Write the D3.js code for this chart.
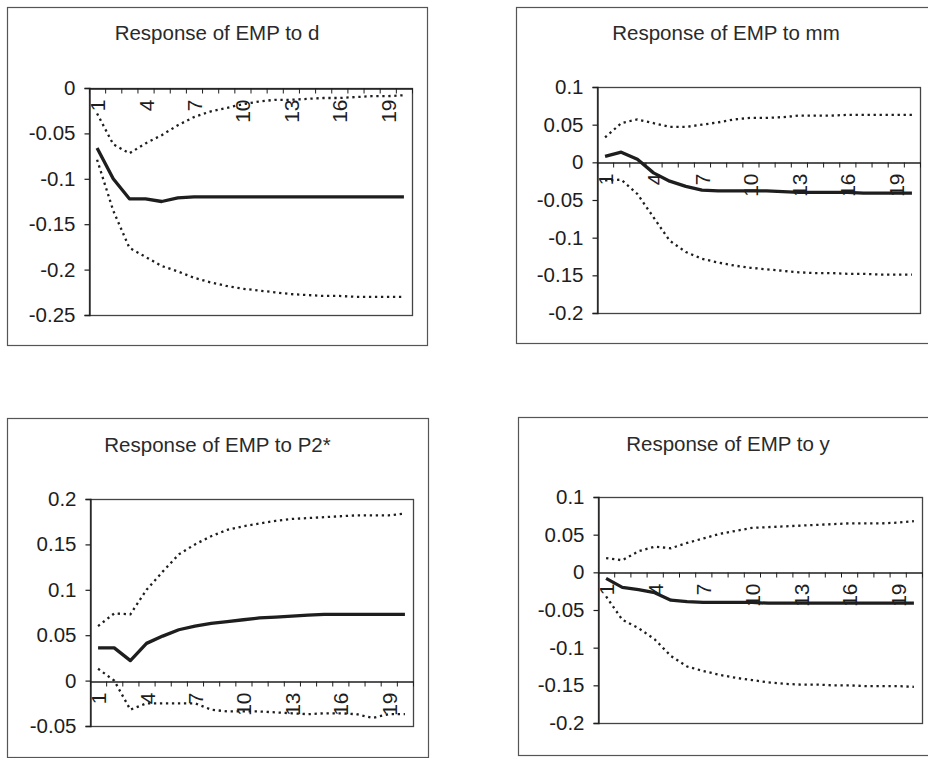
<!DOCTYPE html>
<html>
<head>
<meta charset="utf-8">
<script src="https://cdn.jsdelivr.net/npm/d3@7"></script>
<style>
body { margin: 0; background: #fff; }
svg { display: block; font-family: "Liberation Sans", Arial, sans-serif; }
</style>
</head>
<body>
<svg id="chart" width="928" height="758"></svg>
<script>
(function(){
'use strict';

var periods = [1, 2, 3, 4, 5, 6, 7, 8, 9, 10, 11, 12, 13, 14, 15, 16, 17, 18, 19, 20];
var periodLabels = [1, 4, 7, 10, 13, 16, 19];

// Response of EMP to d
var dImpulse = [-0.066, -0.100, -0.122, -0.122, -0.125, -0.121, -0.120, -0.120, -0.120, -0.120,
                -0.120, -0.120, -0.120, -0.120, -0.120, -0.120, -0.120, -0.120, -0.120, -0.120];
var dUpper = [-0.028, -0.062, -0.072, -0.061, -0.052, -0.041, -0.032, -0.026, -0.022, -0.018,
              -0.015, -0.013, -0.013, -0.012, -0.011, -0.011, -0.010, -0.009, -0.009, -0.008];
var dLower = [-0.079, -0.135, -0.176, -0.186, -0.196, -0.202, -0.209, -0.214, -0.218, -0.221,
              -0.223, -0.225, -0.227, -0.228, -0.229, -0.229, -0.230, -0.230, -0.230, -0.230];
var dTicks = [0, -0.05, -0.1, -0.15, -0.2, -0.25];

// Response of EMP to mm
var mmImpulse = [0.008, 0.0135, 0.004, -0.014, -0.025, -0.032, -0.037, -0.038, -0.038, -0.038,
                 -0.038, -0.039, -0.040, -0.040, -0.040, -0.040, -0.041, -0.041, -0.041, -0.041];
var mmUpper = [0.033, 0.052, 0.057, 0.052, 0.047, 0.047, 0.050, 0.053, 0.057, 0.059,
               0.059, 0.060, 0.062, 0.062, 0.062, 0.063, 0.063, 0.063, 0.063, 0.063];
var mmLower = [-0.024, -0.023, -0.042, -0.073, -0.104, -0.119, -0.128, -0.133, -0.137, -0.140,
               -0.142, -0.144, -0.146, -0.147, -0.147, -0.148, -0.148, -0.149, -0.149, -0.149];
var mmTicks = [0.1, 0.05, 0, -0.05, -0.1, -0.15, -0.2];

// Response of EMP to P2*
var p2Impulse = [0.036, 0.036, 0.022, 0.041, 0.049, 0.056, 0.060, 0.063, 0.065, 0.067,
                 0.069, 0.070, 0.071, 0.072, 0.073, 0.073, 0.073, 0.073, 0.073, 0.073];
var p2Upper = [0.060, 0.074, 0.073, 0.100, 0.120, 0.139, 0.150, 0.159, 0.166, 0.170,
               0.173, 0.176, 0.178, 0.179, 0.180, 0.181, 0.182, 0.182, 0.182, 0.184];
var p2Lower = [0.013, 0.000, -0.032, -0.025, -0.025, -0.025, -0.025, -0.032, -0.034, -0.034,
               -0.034, -0.035, -0.036, -0.037, -0.036, -0.036, -0.037, -0.041, -0.037, -0.037];
var p2Ticks = [0.2, 0.15, 0.1, 0.05, 0, -0.05];

// Response of EMP to y
var yImpulse = [-0.008, -0.020, -0.023, -0.027, -0.037, -0.039, -0.040, -0.040, -0.040, -0.040,
                -0.041, -0.041, -0.041, -0.041, -0.041, -0.041, -0.041, -0.041, -0.041, -0.041];
var yUpper = [0.019, 0.016, 0.028, 0.034, 0.032, 0.039, 0.045, 0.051, 0.055, 0.059,
              0.060, 0.061, 0.062, 0.063, 0.064, 0.065, 0.065, 0.065, 0.066, 0.068];
var yLower = [-0.032, -0.063, -0.074, -0.089, -0.111, -0.125, -0.131, -0.136, -0.140, -0.143,
              -0.146, -0.148, -0.149, -0.149, -0.150, -0.150, -0.151, -0.151, -0.151, -0.152];
var yTicks = [0.1, 0.05, 0, -0.05, -0.1, -0.15, -0.2];

var panels = [
    {title: 'Response of EMP to d', box: [7, 7, 420, 338], plot: [89, 88, 412, 315], titleY: 40,
     domain: [-0.25, 0], ticks: dTicks, impulse: dImpulse, upper: dUpper, lower: dLower},
    {title: 'Response of EMP to mm', box: [516, 7, 420, 336], plot: [597, 87, 920, 313], titleY: 40,
     domain: [-0.2, 0.1], ticks: mmTicks, impulse: mmImpulse, upper: mmUpper, lower: mmLower},
    {title: 'Response of EMP to P2*', box: [7, 418, 421, 339], plot: [90, 499, 413, 726], titleY: 452,
     domain: [-0.05, 0.2], ticks: p2Ticks, impulse: p2Impulse, upper: p2Upper, lower: p2Lower},
    {title: 'Response of EMP to y', box: [518, 417, 420, 338], plot: [598, 497, 922, 723], titleY: 451,
     domain: [-0.2, 0.1], ticks: yTicks, impulse: yImpulse, upper: yUpper, lower: yLower}
];

var svg = d3.select('#chart');
var ink = '#1e1e1e';
var fontStack = '"Liberation Sans", Arial, sans-serif';

panels.forEach(drawPanel);

function drawPanel(p) {
    var g = svg.append('g').attr('class', 'panel');
    var left = p.plot[0], top = p.plot[1], right = p.plot[2], bottom = p.plot[3];

    var x = d3.scaleLinear().domain([0.5, periods.length + 0.5]).range([left, right]);
    var y = d3.scaleLinear().domain(p.domain).range([bottom, top]);

    // outer chart frame
    g.append('rect')
        .attr('x', p.box[0] + 0.5).attr('y', p.box[1] + 0.5)
        .attr('width', p.box[2]).attr('height', p.box[3])
        .attr('fill', 'none').attr('stroke', '#555').attr('stroke-width', 1.2);

    g.append('text')
        .attr('x', p.box[0] + p.box[2] / 2)
        .attr('y', p.titleY)
        .attr('text-anchor', 'middle')
        .attr('font-size', 20.5)
        .attr('fill', '#2a2a2a')
        .text(p.title);

    // plot area border
    g.append('rect')
        .attr('x', left + 0.5).attr('y', top + 0.5)
        .attr('width', right - left).attr('height', bottom - top)
        .attr('fill', 'none').attr('stroke', '#444').attr('stroke-width', 1.3);

    // value axis
    var yAxis = g.append('g')
        .attr('transform', 'translate(' + (left + 0.5) + ',0)')
        .call(d3.axisLeft(y).tickValues(p.ticks).tickSize(5).tickPadding(9)
            .tickFormat(function(d) { return String(+d.toFixed(2)); }));
    yAxis.select('.domain').attr('stroke', ink).attr('stroke-width', 1.3);
    yAxis.selectAll('.tick line').attr('stroke', ink).attr('stroke-width', 1.2);
    yAxis.selectAll('.tick text')
        .attr('font-size', 20.5)
        .attr('font-family', fontStack)
        .attr('fill', ink);

    // category axis at zero, ticks between categories
    var zeroY = Math.round(y(0)) + 0.5;
    var xAxis = g.append('g')
        .attr('transform', 'translate(0,' + zeroY + ')')
        .call(d3.axisBottom(x).tickValues(d3.range(0.5, periods.length + 1, 1))
            .tickSize(5).tickSizeOuter(0).tickFormat(''));
    xAxis.select('.domain').attr('stroke', ink).attr('stroke-width', 1.5);
    xAxis.selectAll('.tick line').attr('stroke', ink).attr('stroke-width', 1);

    var labels = g.append('g')
        .attr('transform', 'translate(0,' + zeroY + ')')
        .call(d3.axisBottom(x).tickValues(periodLabels).tickSize(0).tickFormat(d3.format('d')));
    labels.select('.domain').remove();
    labels.selectAll('.tick text')
        .attr('font-size', 21)
        .attr('font-family', fontStack)
        .attr('fill', ink)
        .attr('text-anchor', 'end')
        .attr('dominant-baseline', 'central')
        .attr('y', 0)
        .attr('dy', null)
        .attr('transform', 'translate(0,11) rotate(-90)');

    var line = d3.line()
        .x(function(d, i) { return x(periods[i]); })
        .y(function(d) { return y(d); });

    [p.upper, p.lower].forEach(function(band) {
        g.append('path')
            .datum(band)
            .attr('d', line)
            .attr('fill', 'none')
            .attr('stroke', ink)
            .attr('stroke-width', 2.3)
            .attr('stroke-dasharray', '2.3,3.7');
    });

    g.append('path')
        .datum(p.impulse)
        .attr('d', line)
        .attr('fill', 'none')
        .attr('stroke', ink)
        .attr('stroke-width', 3.3)
        .attr('stroke-linejoin', 'round');
}

})();
</script>
</body>
</html>
